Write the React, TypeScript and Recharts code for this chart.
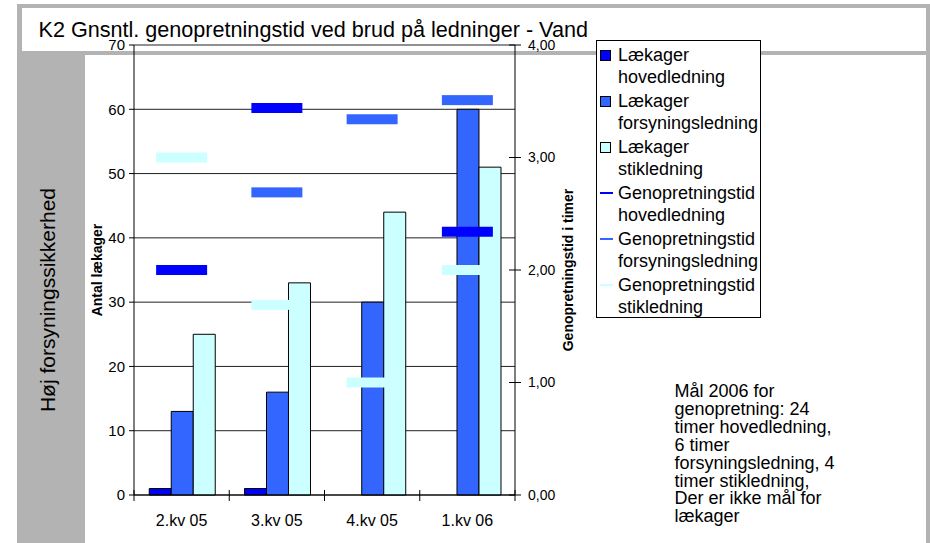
import React from 'react';
import { ComposedChart, Bar, Line, XAxis, YAxis, CartesianGrid, Legend, Label } from 'recharts';

// ---- data ----
const categories = ['2.kv 05', '3.kv 05', '4.kv 05', '1.kv 06'];
const leakMain = [1, 1, 0, 0];
const leakSupply = [13, 16, 30, 60];
const leakService = [25, 33, 44, 51];
const repairMain: (number | null)[] = [2.0, 3.44, null, 2.34];
const repairSupply: (number | null)[] = [null, 2.69, 3.34, 3.51];
const repairService: (number | null)[] = [3.0, 1.69, 1.0, 2.0];
const leftTicks = [0, 10, 20, 30, 40, 50, 60, 70];
const rightTicks = [0, 1, 2, 3, 4];

const titleText = 'K2 Gnsntl. genopretningstid ved brud på ledninger - Vand';
const sideText = 'Høj forsyningssikkerhed';
const leftAxisTitle = 'Antal lækager';
const rightAxisTitle = 'Genopretningstid i timer';
const noteLines = [
  'Mål 2006 for',
  'genopretning: 24',
  'timer hovedledning,',
  '6 timer',
  'forsyningsledning, 4',
  'timer stikledning,',
  'Der er ikke mål for',
  'lækager',
];

const barSeries = [
  { key: 'leakMain', name: ['Lækager', 'hovedledning'], color: '#0000FF', values: leakMain },
  { key: 'leakSupply', name: ['Lækager', 'forsyningsledning'], color: '#3366FF', values: leakSupply },
  { key: 'leakService', name: ['Lækager', 'stikledning'], color: '#CCFFFF', values: leakService },
];
const lineSeries = [
  { key: 'repairMain', name: ['Genopretningstid', 'hovedledning'], color: '#0000FF', values: repairMain },
  { key: 'repairSupply', name: ['Genopretningstid', 'forsyningsledning'], color: '#3366FF', values: repairSupply },
  { key: 'repairService', name: ['Genopretningstid', 'stikledning'], color: '#CCFFFF', values: repairService },
];

const data = categories.map((cat, i) => {
  const row: Record<string, any> = { cat };
  [...barSeries, ...lineSeries].forEach((s) => {
    row[s.key] = s.values[i];
  });
  return row;
});

const FONT = '"Liberation Sans", Arial, Helvetica, sans-serif';
const GRAY = '#b3b3b3';

const X_TICK_SIZE = 6;
const X_TICK_MARGIN = 14;
const R_TICK_SIZE = 6;
const R_TICK_MARGIN = 7;

const fmtComma = (v: number) => v.toFixed(2).replace('.', ',');

const CategoryTick = (props: any) => {
  const { x, y, payload, index, visibleTicksCount, width } = props;
  const band = payload && typeof payload.offset === 'number' && payload.offset > 0
    ? payload.offset * 2
    : width / visibleTicksCount;
  const axisY = y - X_TICK_SIZE - X_TICK_MARGIN;
  return (
    <g>
      <line x1={x - band / 2} x2={x - band / 2} y1={axisY - 5} y2={axisY + 6} stroke="#000" />
      {index === visibleTicksCount - 1 && (
        <line x1={x + band / 2} x2={x + band / 2} y1={axisY - 5} y2={axisY + 6} stroke="#000" />
      )}
      <text x={x} y={y} dy="0.71em" textAnchor="middle" fontSize={16} fill="#000" fontFamily={FONT}>
        {payload.value}
      </text>
    </g>
  );
};

const RightTick = (props: any) => {
  const { x, y, payload } = props;
  const axisX = x - R_TICK_SIZE - R_TICK_MARGIN;
  return (
    <g>
      <line x1={axisX - 6} x2={axisX + 6} y1={y} y2={y} stroke="#000" />
      <text x={x} y={y} dy="0.355em" textAnchor="start" fontSize={14} fill="#000" fontFamily={FONT}>
        {fmtComma(payload.value)}
      </text>
    </g>
  );
};

const makeDash = (color: string) => (props: any) => {
  const { cx, cy, value, index } = props;
  const k = `dash-${color}-${index}`;
  if (value == null || cx == null || cy == null || Number.isNaN(cy)) return <g key={k} />;
  return <rect key={k} x={cx - 25.5} y={cy - 5} width={51} height={10} fill={color} />;
};

const LegendBox = () => (
  <div
    style={{
      boxSizing: 'border-box',
      width: 165,
      height: 278,
      border: '1px solid #000',
      background: '#fff',
      paddingTop: 3,
      fontFamily: FONT,
      fontSize: 18,
      lineHeight: '22px',
      color: '#000',
    }}
  >
    {[...barSeries.map((s) => ({ ...s, kind: 'bar' })), ...lineSeries.map((s) => ({ ...s, kind: 'line' }))].map((s) => (
      <div key={s.key} style={{ position: 'relative', height: 46, paddingLeft: 21 }}>
        {s.kind === 'bar' ? (
          <div
            style={{
              position: 'absolute',
              left: 3,
              top: 6,
              width: 9,
              height: 9,
              background: s.color,
              border: '1px solid #000',
            }}
          />
        ) : (
          <div style={{ position: 'absolute', left: 3, top: 10, width: 13, height: 2, background: s.color }} />
        )}
        <div style={{ whiteSpace: 'nowrap' }}>{s.name[0]}</div>
        <div style={{ whiteSpace: 'nowrap' }}>{s.name[1]}</div>
      </div>
    ))}
  </div>
);

export default function App() {
  return (
    <div style={{ position: 'absolute', left: 0, top: 0, width: 930, height: 543, background: '#fff', overflow: 'hidden' }}>
      <svg width={930} height={543} style={{ position: 'absolute', left: 0, top: 0 }}>
        <rect x={17} y={4} width={913} height={539} fill={GRAY} />
        <rect x={22} y={8} width={904} height={43} fill="#fff" />
        <rect x={85} y={55} width={841} height={488} fill="#fff" />
        <text x={38.5} y={37.3} fontSize={21.6} fontFamily={FONT} fill="#000">
          {titleText}
        </text>
        <text
          transform="translate(54.5,300) rotate(-90)"
          textAnchor="middle"
          fontSize={21}
          fontFamily={FONT}
          fill="#000"
        >
          {sideText}
        </text>
      </svg>
      <div style={{ position: 'absolute', left: 0, top: 0 }}>
        <ComposedChart
          width={930}
          height={543}
          data={data}
          margin={{ top: 45, right: 309, bottom: 0, left: 60 }}
          barCategoryGap="16%"
          barGap={0}
          style={{ fontFamily: FONT }}
        >
          <CartesianGrid yAxisId="left" vertical={false} stroke="#222" strokeWidth={1} />
          <XAxis
            dataKey="cat"
            xAxisId={0}
            height={48}
            axisLine={{ stroke: '#000' }}
            tickLine={false}
            tickSize={X_TICK_SIZE}
            tickMargin={X_TICK_MARGIN}
            tick={<CategoryTick />}
            interval={0}
          />
          <YAxis
            yAxisId="left"
            orientation="left"
            width={74}
            domain={[0, 70]}
            ticks={leftTicks}
            interval={0}
            tickSize={5}
            tickMargin={4}
            axisLine={{ stroke: '#000' }}
            tickLine={{ stroke: '#000' }}
            tick={{ fontSize: 15, fill: '#000', fontFamily: FONT }}
          >
            <Label
              value={leftAxisTitle}
              angle={-90}
              position="center"
              style={{ fontSize: 14, fontWeight: 'bold', fill: '#000', fontFamily: FONT }}
            />
          </YAxis>
          <YAxis
            yAxisId="right"
            orientation="right"
            width={106}
            domain={[0, 4]}
            ticks={rightTicks}
            interval={0}
            tickSize={R_TICK_SIZE}
            tickMargin={R_TICK_MARGIN}
            axisLine={{ stroke: '#000' }}
            tickLine={false}
            tick={<RightTick />}
          >
            <Label
              value={rightAxisTitle}
              angle={-90}
              position="center"
              style={{ fontSize: 14, fontWeight: 'bold', fill: '#000', fontFamily: FONT }}
            />
          </YAxis>
          {barSeries.map((s) => (
            <Bar
              key={s.key}
              yAxisId="left"
              dataKey={s.key}
              name={s.name.join(' ')}
              fill={s.color}
              stroke="#000"
              strokeWidth={1}
              isAnimationActive={false}
            />
          ))}
          {lineSeries.map((s) => (
            <Line
              key={s.key}
              yAxisId="right"
              dataKey={s.key}
              name={s.name.join(' ')}
              stroke="none"
              dot={makeDash(s.color)}
              activeDot={false}
              connectNulls={false}
              isAnimationActive={false}
            />
          ))}
          <Legend
            layout="vertical"
            align="center"
            verticalAlign="middle"
            wrapperStyle={{ left: 596, top: 40, width: 165, height: 278 }}
            content={() => <LegendBox />}
          />
        </ComposedChart>
      </div>
      <div
        style={{
          position: 'absolute',
          left: 674.5,
          top: 383,
          fontFamily: FONT,
          fontSize: 18,
          lineHeight: '17.9px',
          color: '#000',
          whiteSpace: 'nowrap',
        }}
      >
        {noteLines.map((l, i) => (
          <div key={i}>{l}</div>
        ))}
      </div>
    </div>
  );
}
